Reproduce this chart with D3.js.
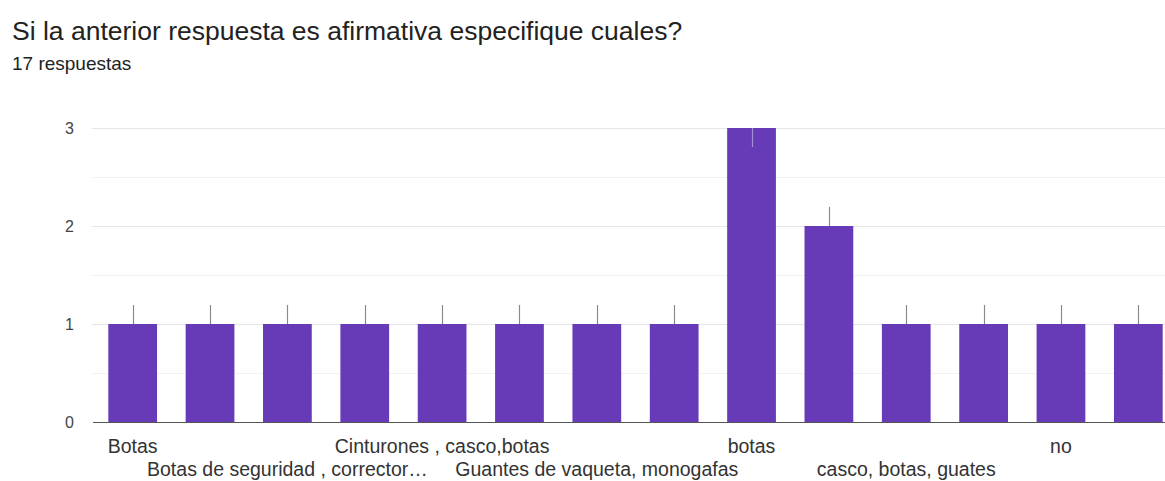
<!DOCTYPE html>
<html>
<head>
<meta charset="utf-8">
<script src="https://cdn.jsdelivr.net/npm/d3@7"></script>
<style>
  html, body { margin: 0; padding: 0; background: #fff; }
  svg { display: block; font-family: "Liberation Sans", Arial, sans-serif; }
</style>
</head>
<body>
<svg id="chart" width="1165" height="481"></svg>
<script>
// Survey answers (sorted as the form lists them); blank entries have no visible label
const categories = [
  "Botas", "", "Botas de seguridad , corrector…", "", "Cinturones , casco,botas", "",
  "Guantes de vaqueta, monogafas", "", "botas", "", "casco, botas, guates", "", "no", ""
];
const counts = [1, 1, 1, 1, 1, 1, 1, 1, 3, 2, 1, 1, 1, 1];
const yTicks = [0, 1, 2, 3];
const yMinorTicks = [0.5, 1.5, 2.5];

const title = "Si la anterior respuesta es afirmativa especifique cuales?";
const subtitle = "17 respuestas";

const svg = d3.select("#chart");

svg.append("text")
  .attr("x", 12).attr("y", 40)
  .attr("fill", "#222")
  .attr("font-size", 26.5)
  .text(title);

svg.append("text")
  .attr("x", 12).attr("y", 70)
  .attr("fill", "#222")
  .attr("font-size", 19)
  .text(subtitle);

const plot = { left: 92, right: 1177, top: 128, bottom: 422 };

const x = d3.scaleBand()
  .domain(d3.range(categories.length))
  .range([plot.left + 2, plot.right])
  .paddingInner(0.37)
  .paddingOuter(0.185);

const y = d3.scaleLinear()
  .domain([0, 3])
  .range([plot.bottom, plot.top]);

// minor gridlines
svg.append("g")
  .selectAll("line")
  .data(yMinorTicks)
  .join("line")
  .attr("x1", plot.left).attr("x2", 1165)
  .attr("y1", d => Math.round(y(d)) + 0.5).attr("y2", d => Math.round(y(d)) + 0.5)
  .attr("stroke", "#f2f2f2");

// major gridlines
svg.append("g")
  .selectAll("line")
  .data(yTicks.filter(d => d > 0))
  .join("line")
  .attr("x1", plot.left).attr("x2", 1165)
  .attr("y1", d => Math.round(y(d)) + 0.5).attr("y2", d => Math.round(y(d)) + 0.5)
  .attr("stroke", "#e6e6e6");

// y axis labels
const yAxis = d3.axisLeft(y).tickValues(yTicks).tickSize(0).tickPadding(18).tickFormat(d3.format("d"));
const yg = svg.append("g")
  .attr("transform", `translate(${plot.left},0)`)
  .call(yAxis);
yg.select(".domain").remove();
yg.selectAll("text")
  .attr("font-family", "'Liberation Sans', Arial, sans-serif")
  .attr("font-size", 16)
  .attr("fill", "#444");

// bars
svg.append("g")
  .selectAll("rect")
  .data(counts)
  .join("rect")
  .attr("x", (d, i) => x(i))
  .attr("width", x.bandwidth())
  .attr("y", d => y(d))
  .attr("height", d => y(0) - y(d))
  .attr("fill", "#673ab7");

// small value markers at the top of each bar
svg.append("g")
  .selectAll("line")
  .data(counts)
  .join("line")
  .attr("x1", (d, i) => Math.round(x(i) + x.bandwidth() / 2) + 0.5)
  .attr("x2", (d, i) => Math.round(x(i) + x.bandwidth() / 2) + 0.5)
  .attr("y1", d => y(d))
  .attr("y2", d => d >= 3 ? y(d) + 19 : y(d) - 19)
  .attr("stroke", d => d >= 3 ? "#a590d6" : "#8a8a8a")
  .attr("stroke-width", 1.2);

// baseline
svg.append("line")
  .attr("x1", plot.left + 1).attr("x2", 1165)
  .attr("y1", Math.round(y(0)) + 0.5).attr("y2", Math.round(y(0)) + 0.5)
  .attr("stroke", "#555")
  .attr("stroke-width", 1.2);

// category labels, staggered over two rows
const shown = categories.map((c, i) => ({ c, i })).filter(d => d.c !== "");
svg.append("g")
  .selectAll("text")
  .data(shown)
  .join("text")
  .attr("x", d => x(d.i) + x.bandwidth() / 2)
  .attr("y", (d, k) => k % 2 === 0 ? 453 : 476)
  .attr("text-anchor", "middle")
  .attr("font-size", 19.5)
  .attr("fill", "#333")
  .text(d => d.c);
</script>
</body>
</html>
